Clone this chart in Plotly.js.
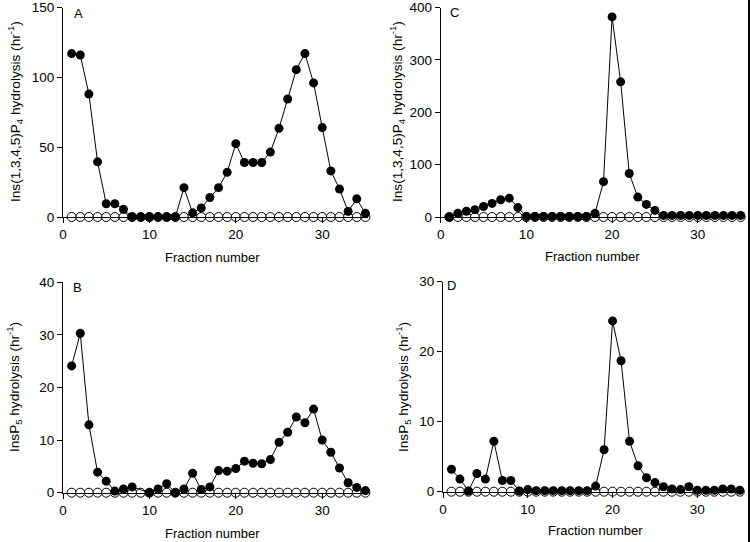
<!DOCTYPE html>
<html>
<head>
<meta charset="utf-8">
<script src="https://cdn.plot.ly/plotly-3.0.1.min.js"></script>
<style>html,body{margin:0;padding:0;background:#fff;}#chart{width:750px;height:542px;}</style>
</head>
<body>
<div id="chart"></div>
<script>
// Fraction numbers
const fractions = [1,2,3,4,5,6,7,8,9,10,11,12,13,14,15,16,17,18,19,20,21,22,23,24,25,26,27,28,29,30,31,32,33,34,35];

// Panel A: Ins(1,3,4,5)P4 hydrolysis (hr^-1)
const aFilled = [117,116,88,39.5,9.5,9.5,5.5,0,0,0,0,0,0,21,3,6.5,14,21,32,52.5,39,39,39,46.5,63.5,84.5,105.5,117,96,64,33,20,4,13,2.6];
const aOpen   = [0,0,0,0,0,0,0,0,0,0,0,0,0,0,0,0,0,0,0,0,0,0,0,0,0,0,0,0,0,0,0,0,0,0,0];

// Panel B: InsP5 hydrolysis (hr^-1)
const bFilled = [24.1,30.3,12.9,3.9,2.2,0.3,0.7,1.1,null,0,0.7,1.7,0,0.7,3.7,0.6,1.1,4.2,4.1,4.6,6.0,5.6,5.5,6.3,9.6,11.5,14.4,13.3,15.9,10,7.7,4.7,1.9,1.0,0.4];
const bOpen   = [0,0,0,0,0,0,0,0,0,0,0,0,0,0,0,0,0,0,0,0,0,0,0,0,0,0,0,0,0,0,0,0,0,0,0];

// Panel C: Ins(1,3,4,5)P4 hydrolysis (hr^-1)
const cFilled = [0,7,11,14,20,26,33,36,18,1,1,1,1,1,1,1,1,7,67.5,382,258,83,38,24,12.6,3,3,3,3,3,3,3,3,3,3];
const cOpen   = [0,0,0,0,0,0,0,0,0,0,0,0,0,0,0,0,0,0,0,0,0,0,0,0,0,0,0,0,0,0,0,0,0,0,0];

// Panel D: InsP5 hydrolysis (hr^-1)
const dFilled = [3.2,1.8,0.1,2.6,1.8,7.2,1.6,1.6,0.1,0.3,0.15,0.15,0.15,0.15,0.15,0.15,0.15,0.8,6.0,24.4,18.7,7.2,3.7,2.0,1.3,0.7,0.4,0.3,0.7,0.2,0.2,0.2,0.4,0.4,0.2];
const dOpen   = [0,0,0,0,0,0,0,0,0,0,0,0,0,0,0,0,0,0,0,0,0,0,0,0,0,0,0,0,0,0,0,0,0,0,0];

const panelLetters = ['A','B','C','D'];
const yTitleP4 = 'Ins(1,3,4,5)P<sub>4</sub> hydrolysis (hr<sup>-1</sup>)';
const yTitleP5 = 'InsP<sub>5</sub> hydrolysis (hr<sup>-1</sup>)';
const xTitle = 'Fraction number';

const W = 750, H = 542;
const px = v => v / W;
const py = v => 1 - v / H;

function traces(xa, ya, open, filled) {
  return [
    {x: fractions, y: open, xaxis: xa, yaxis: ya, mode: 'lines+markers', type: 'scatter',
     line: {color: '#000', width: 1}, cliponaxis: false,
     marker: {symbol: 'circle', size: 9, color: '#fff', line: {color: '#000', width: 1}}, showlegend: false},
    {x: fractions, y: filled, xaxis: xa, yaxis: ya, mode: 'lines+markers', type: 'scatter', connectgaps: true,
     line: {color: '#000', width: 1}, cliponaxis: false,
     marker: {symbol: 'circle', size: 9, color: '#000', line: {color: '#000', width: 0}}, showlegend: false}
  ];
}

const data = [].concat(
  traces('x', 'y', aOpen, aFilled),
  traces('x2', 'y2', bOpen, bFilled),
  traces('x3', 'y3', cOpen, cFilled),
  traces('x4', 'y4', dOpen, dFilled)
);

const fam = 'Liberation Sans, Arial, sans-serif';
const font = {family: fam, size: 13, color: '#000'};
const tickFont = {family: fam, size: 13.5, color: '#000'};

function xax(dom, anchor) {
  return {domain: dom, anchor: anchor, range: [0, 35.3], tickvals: [0,10,20,30], ticks: 'outside', ticklen: 5,
    tickcolor: '#000', tickwidth: 1, showline: true, linecolor: '#000', linewidth: 1, showgrid: false,
    zeroline: false, tickfont: tickFont, fixedrange: true, ticklabeloverflow: 'allow'};
}
function yax(dom, anchor, range, dtick) {
  return {domain: dom, anchor: anchor, range: range, dtick: dtick, tick0: 0, ticks: 'outside', ticklen: 5,
    tickcolor: '#000', tickwidth: 1, showline: true, linecolor: '#000', linewidth: 1, showgrid: false,
    zeroline: false, tickfont: tickFont, fixedrange: true, ticklabeloverflow: 'allow'};
}

const yTitleFont = {family: fam, size: 13.6, color: '#000'};
const xTitleFont = {family: fam, size: 13, color: '#000'};
function ann(text, x, y, opts) {
  return Object.assign({text: text, xref: 'paper', yref: 'paper', x: px(x), y: py(y), showarrow: false,
    xanchor: 'center', yanchor: 'middle', font: yTitleFont}, opts || {});
}

const layout = {
  width: W, height: H, margin: {l: 0, r: 0, t: 0, b: 0},
  paper_bgcolor: '#fff', plot_bgcolor: 'rgba(0,0,0,0)', font: font, showlegend: false,
  xaxis:  xax([px(63), px(368)], 'y'),
  yaxis:  yax([py(217), py(7.5)], 'x', [0, 150], 50),
  xaxis2: xax([px(63), px(368)], 'y2'),
  yaxis2: yax([py(492.7), py(282.3)], 'x2', [0, 40], 10),
  xaxis3: xax([px(440.7), px(743.2)], 'y3'),
  yaxis3: yax([py(217), py(7.5)], 'x3', [0, 400], 100),
  xaxis4: xax([px(443), px(742.3)], 'y4'),
  yaxis4: yax([py(491.7), py(281.7)], 'x4', [0, 30], 10),
  annotations: [
    ann(panelLetters[0], 72, 14, {xanchor: 'left', font: font}),
    ann(panelLetters[1], 71, 287, {xanchor: 'left', font: font}),
    ann(panelLetters[2], 448, 12, {xanchor: 'left', font: font}),
    ann(panelLetters[3], 445, 285, {xanchor: 'left', font: font}),
    ann(yTitleP4, 15, 112, {textangle: -90}),
    ann(yTitleP5, 14, 387, {textangle: -90}),
    ann(yTitleP4, 397, 112, {textangle: -90}),
    ann(yTitleP5, 403, 387, {textangle: -90}),
    ann(xTitle, 212, 257, {font: xTitleFont}),
    ann(xTitle, 213, 533, {font: xTitleFont}),
    ann(xTitle, 592, 256, {font: xTitleFont}),
    ann(xTitle, 595, 530, {font: xTitleFont})
  ],
  shapes: [
    {type: 'line', xref: 'paper', yref: 'paper', x0: px(749), x1: px(749), y0: 0, y1: 1,
     line: {color: '#000', width: 2}}
  ]
};

Plotly.newPlot('chart', data, layout, {staticPlot: true, displayModeBar: false});
</script>
</body>
</html>
